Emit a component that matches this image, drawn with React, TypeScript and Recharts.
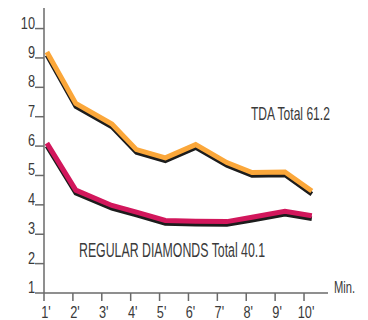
import React from "react";
import { LineChart, Line, XAxis, YAxis } from "recharts";

// minute positions of the readings, as placed on the drawing
const minutes = [1.1, 2.1, 3.35, 4.2, 5.2, 6.25, 7.33, 8.2, 9.34, 10.27];
const tda = [9.2, 7.45, 6.75, 5.88, 5.6, 6.05, 5.44, 5.1, 5.12, 4.47];
const regular = [6.1, 4.5, 3.98, 3.75, 3.47, 3.44, 3.43, 3.58, 3.78, 3.63];

const xTicks = [1, 2, 3, 4, 5, 6, 7, 8, 9, 10];
const yTicks = [1, 2, 3, 4, 5, 6, 7, 8, 9, 10];

const data = minutes.map((t, i) => ({ t, tda: tda[i], regular: regular[i] }));

const FONT = "'Liberation Sans', Arial, sans-serif";
const INK = "#3a3a3a";
const AXIS = "#6a6a6a";
const ORANGE = "#FBA73A";
const MAGENTA = "#D2175C";

const YTick = (props: any) => {
  const { x, y, payload } = props;
  return (
    <text
      transform={`translate(${x},${y}) scale(0.75,1)`}
      textAnchor="end"
      fontSize={17}
      fontFamily={FONT}
      fill={INK}
    >
      {payload.value}
    </text>
  );
};

const XTick = (props: any) => {
  const { x, y, payload } = props;
  return (
    <text
      transform={`translate(${x + 2},${y + 17}) scale(0.75,1)`}
      textAnchor="middle"
      fontSize={17}
      fontFamily={FONT}
      fill={INK}
    >
      {`${payload.value}'`}
    </text>
  );
};

const Note = ({ x, y, size, sx, children }: any) => (
  <text transform={`translate(${x},${y}) scale(${sx},1)`} fontSize={size} fontFamily={FONT} fill={INK}>
    {children}
  </text>
);

export default function App() {
  return (
    <div style={{ position: "absolute", left: 0, top: 0, width: 368, height: 320, background: "#fff" }}>
      <style>{`.shadow { transform: translate(0px, 3px); }`}</style>
      <LineChart width={368} height={320} data={data} margin={{ top: 8, right: 40, bottom: 0, left: 4 }}>
        <XAxis
          type="number"
          dataKey="t"
          domain={[1, 10.83]}
          ticks={xTicks}
          interval={0}
          height={27}
          tickSize={8}
          tickMargin={0}
          tick={<XTick />}
          axisLine={{ stroke: AXIS, strokeWidth: 1.5 }}
          tickLine={{ stroke: AXIS, strokeWidth: 1.5 }}
        />
        <YAxis
          type="number"
          domain={[1, 10.7]}
          ticks={yTicks}
          interval={0}
          width={40}
          tickSize={9}
          tickMargin={0}
          tick={<YTick />}
          axisLine={{ stroke: AXIS, strokeWidth: 1.5 }}
          tickLine={{ stroke: AXIS, strokeWidth: 1.5 }}
        />
        <Line className="shadow" dataKey="tda" stroke="#1c1c1c" strokeWidth={4.5} dot={false} activeDot={false} isAnimationActive={false} />
        <Line dataKey="tda" stroke={ORANGE} strokeWidth={5} dot={false} activeDot={false} isAnimationActive={false} />
        <Line className="shadow" dataKey="regular" stroke="#1c1c1c" strokeWidth={4.5} dot={false} activeDot={false} isAnimationActive={false} />
        <Line dataKey="regular" stroke={MAGENTA} strokeWidth={5} dot={false} activeDot={false} isAnimationActive={false} />
        <Note x={251} y={120} size={18} sx={0.67}>TDA Total 61.2</Note>
        <Note x={79} y={257} size={19.5} sx={0.633}>REGULAR DIAMONDS Total 40.1</Note>
        <Note x={334} y={293} size={16} sx={0.7}>Min.</Note>
      </LineChart>
    </div>
  );
}
